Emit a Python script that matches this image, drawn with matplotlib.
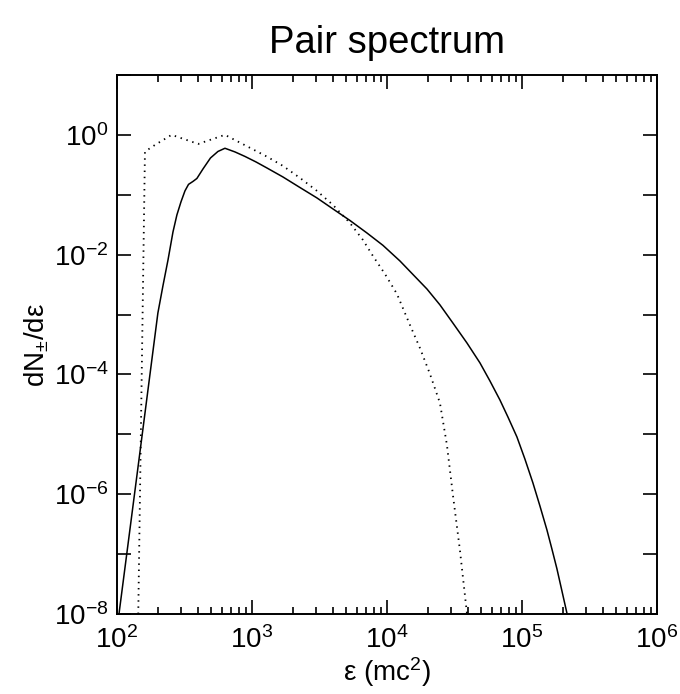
import math
import matplotlib
matplotlib.use('Agg')
import matplotlib.pyplot as plt
from matplotlib.ticker import LogLocator, FuncFormatter, NullLocator

plt.rcParams['font.family'] = ['Liberation Sans', 'DejaVu Sans']
plt.rcParams['mathtext.fontset'] = 'custom'
plt.rcParams['mathtext.rm'] = 'Liberation Sans'
plt.rcParams['mathtext.it'] = 'Liberation Sans:italic'

# спектр пар: сплошная кривая
energy_solid = [103.5, 145.5, 201, 219, 239, 260, 278, 298, 319, 339, 366, 391,
                434, 493, 560, 631, 748, 888, 1071, 1291, 1697, 2268, 3030,
                3981, 5319, 7110, 9341, 12480, 15580, 19790, 24700, 30830,
                39130, 48870, 57940, 68710, 78760, 91840, 105200, 120600,
                135900, 153200, 166800, 181700, 197900, 215400]
dnde_solid = [1.0e-8, 3.74e-6, 1.06e-3, 3.0e-3, 8.2e-3, 2.39e-2, 4.6e-2,
              7.6e-2, 0.116, 0.149, 0.167, 0.187, 0.27, 0.411, 0.528, 0.597,
              0.519, 0.436, 0.353, 0.28, 0.198, 0.132, 8.85e-2, 5.8e-2,
              3.72e-2, 2.3e-2, 1.43e-2, 7.85e-3, 4.67e-3, 2.67e-3, 1.45e-3,
              7.2e-4, 3.36e-4, 1.56e-4, 7.8e-5, 3.75e-5, 1.95e-5, 9.05e-6,
              3.88e-6, 1.55e-6, 6.4e-7, 2.54e-7, 1.22e-7, 5.7e-8, 2.43e-8,
              1.04e-8]

# пунктирная кривая
energy_dot = [143.8, 161.2, 191.2, 254, 400, 631, 1291, 1697, 2268, 3030, 3981,
              5319, 6641, 7876, 9666, 11860, 14810, 17550, 20830, 24700,
              27830, 30830, 34730, 39130]
dnde_dot = [1.0e-8, 0.525, 0.678, 1.0, 0.705, 1.0, 0.433, 0.303, 0.191, 0.116,
            6.76e-2, 3.38e-2, 1.76e-2, 9.5e-3, 4.76e-3, 2.21e-3, 6.7e-4,
            2.77e-4, 1.02e-4, 3.34e-5, 6.65e-6, 9.7e-7, 1.17e-7, 1.04e-8]

fig = plt.figure(figsize=(6.8, 6.94), dpi=100)
ax = fig.add_axes([0.172, 0.1153, 0.794, 0.7767])

ax.plot(energy_solid, dnde_solid, color='black', lw=1.1)
ax.plot(energy_dot, dnde_dot, color='black', lw=1.3, linestyle=(0, (0.8, 2.6)))

ax.set_xscale('log')
ax.set_yscale('log')
ax.set_xlim(1e2, 1e6)
ax.set_ylim(1e-8, 1e1)

ax.yaxis.set_major_locator(LogLocator(base=10, numticks=20))
ax.yaxis.set_minor_locator(NullLocator())


def ylab(v, pos):
    e = int(round(math.log10(v)))
    if e % 2 == 0 and e <= 0:
        return r'$\mathdefault{10^{%d}}$' % e
    return ''


ax.yaxis.set_major_formatter(FuncFormatter(ylab))
ax.xaxis.set_major_locator(LogLocator(base=10, numticks=10))
ax.xaxis.set_minor_locator(LogLocator(base=10, subs=range(2, 10), numticks=20))

ax.tick_params(which='both', direction='in', top=True, right=True,
               labelsize=20, width=1.2)
ax.tick_params(which='major', length=10, pad=6)
ax.tick_params(axis='x', which='major', pad=9)
ax.tick_params(which='minor', length=5)
for s in ax.spines.values():
    s.set_linewidth(1.4)

ax.set_title('Pair spectrum', fontsize=27.5, pad=16)
ax.set_xlabel('ε (mc$^2$)', fontsize=20, labelpad=1)
ax.set_ylabel('dN$_{\\pm}$/dε', fontsize=20, labelpad=2)

fig.savefig('out.png', dpi=100)
